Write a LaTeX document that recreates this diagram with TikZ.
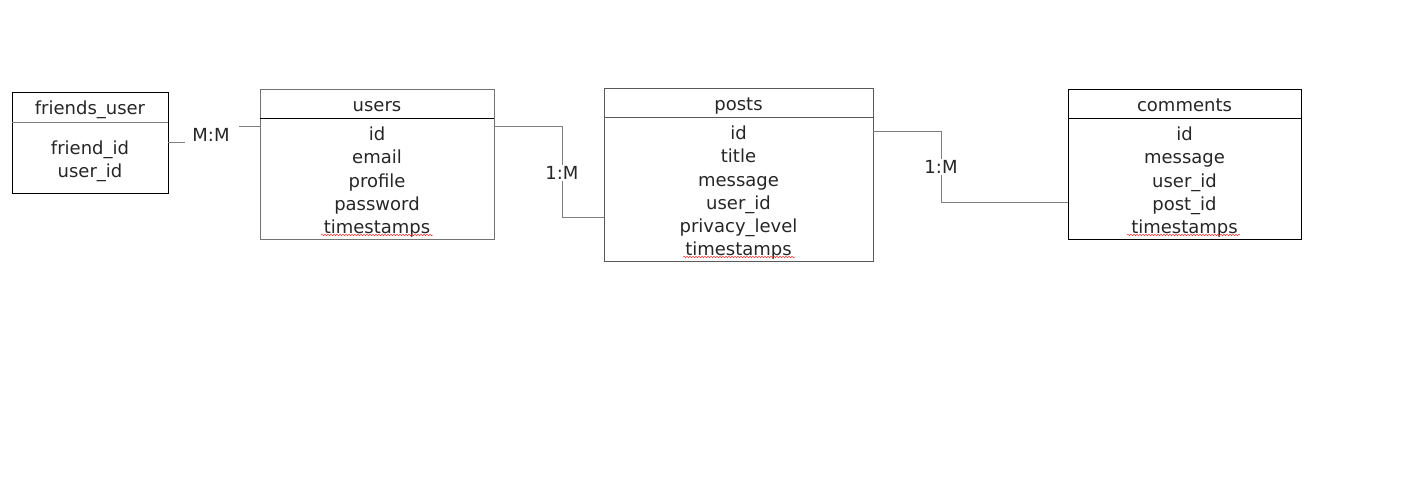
\documentclass[tikz,border=0pt]{standalone}
\usepackage{fontspec}
\setmainfont{DejaVu Sans}
\usetikzlibrary{positioning,decorations.pathmorphing}

\newcommand{\rowstrut}{\rule{0pt}{20pt}}

\tikzset{
  tablehead/.style={anchor=north west, inner sep=0pt, outer sep=0pt, text height=14pt, text depth=0pt, font=\fontsize{18}{23}\selectfont, text=black!85},
  tablebody/.style={anchor=north, inner sep=0pt, outer sep=0pt, align=center, font=\fontsize{18}{23.2}\selectfont, text=black!85},
  link/.style={draw=black!50, line width=1pt},
  ratio/.style={fill=white, inner sep=1pt, font=\fontsize{18}{23}\selectfont, text=black!85},
  spell/.style={red!80, line width=0.5pt, decorate, decoration={snake, amplitude=0.8pt, segment length=3pt}}
}

\begin{document}
\begin{tikzpicture}[x=1pt, y=-1pt, line width=1pt]
    \useasboundingbox (0,0) rectangle (1413,484);

    \node[tablehead, minimum width=156pt, minimum height=30pt] (fuhead) at (12,93) {friends\_user};
    \node[tablebody, minimum width=156pt, minimum height=70pt] (fubody) at (fuhead.south) {\rowstrut friend\_id\\user\_id};
    \draw[black] (fuhead.north west) rectangle (fubody.south east);
    \draw[black!50] (fuhead.south west) -- (fuhead.south east);

    \node[tablehead, minimum width=234pt, minimum height=29pt] (usershead) at (260,90) {users};
    \node[tablebody, minimum width=234pt, minimum height=120pt] (usersbody) at (usershead.south) {\rowstrut id\\email\\profile\\password\\timestamps};
    \draw[black!55] (usershead.north west) rectangle (usersbody.south east);
    \draw[black] (usershead.south west) -- (usershead.south east);

    \node[tablehead, minimum width=269pt, minimum height=29pt] (postshead) at (604,89) {posts};
    \node[tablebody, minimum width=269pt, minimum height=143pt] (postsbody) at (postshead.south) {\rowstrut id\\title\\message\\user\_id\\privacy\_level\\timestamps};
    \draw[black!65] (postshead.north west) rectangle (postsbody.south east);
    \draw[black!65] (postshead.south west) -- (postshead.south east);

    \node[tablehead, minimum width=233pt, minimum height=29pt] (commentshead) at (1068,90) {comments};
    \node[tablebody, minimum width=233pt, minimum height=120pt] (commentsbody) at (commentshead.south) {\rowstrut id\\message\\user\_id\\post\_id\\timestamps};
    \draw[black] (commentshead.north west) rectangle (commentsbody.south east);
    \draw[black] (commentshead.south west) -- (commentshead.south east);

    \node[ratio] (mm) at (211,135) {M:M};
    \draw[link] ([yshift=15pt]fubody.east) -- ++(17pt,0);
    \draw[link] ([yshift=-8pt]usersbody.north west) -- ++(-21pt,0);

    \node[ratio] (userposts) at (562,173) {1:M};
    \draw[link] ([yshift=-8pt]usersbody.north east) -| (userposts.north);
    \draw[link] (userposts.south) |- ([yshift=-27.5pt]postsbody.west);

    \node[ratio] (postcomments) at (941,167) {1:M};
    \draw[link] ([yshift=-14pt]postsbody.north east) -| (postcomments.north);
    \draw[link] (postcomments.south) |- ([yshift=-23pt]commentsbody.west);

    \draw[spell] (321,235) -- (433,235);
    \draw[spell] (683,257) -- (795,257);
    \draw[spell] (1127,235) -- (1240,235);
\end{tikzpicture}
\end{document}
